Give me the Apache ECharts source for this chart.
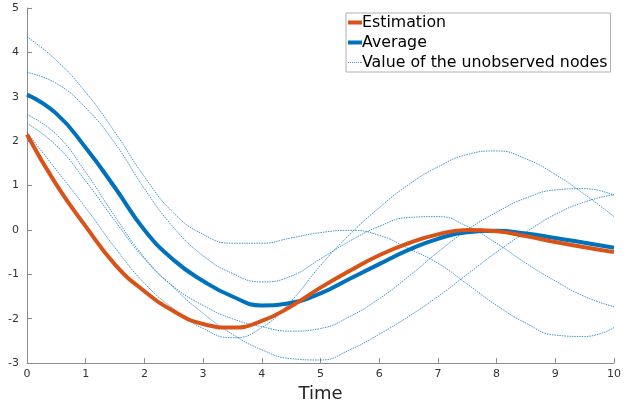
<!DOCTYPE html>
<html>
<head>
<meta charset="utf-8">
<script src="https://cdn.jsdelivr.net/npm/echarts@6/dist/echarts.min.js"></script>
<style>html,body{margin:0;padding:0;background:#fff;}#c{width:642px;height:408px;}</style>
</head>
<body>
<div id="c"></div>
<script>
var xs = [0,0.5,1,1.5,2,2.5,3,3.5,4,4.5,5,5.5,6,6.5,7,7.5,8,8.5,9,9.5,10];
var estimation = [2.15,1.02,0.08,-0.78,-1.38,-1.83,-2.12,-2.2,-2.05,-1.72,-1.3,-0.92,-0.57,-0.3,-0.1,0.0,-0.03,-0.14,-0.27,-0.39,-0.5];
var average = [3.05,2.62,1.85,0.95,0.0,-0.68,-1.15,-1.5,-1.7,-1.64,-1.43,-1.1,-0.77,-0.45,-0.2,-0.05,-0.02,-0.08,-0.18,-0.29,-0.4];
var nodeA = [4.35,3.82,3.1,2.2,1.2,0.38,-0.1,-0.3,-0.3,-0.18,-0.06,-0.01,-0.12,-0.42,-0.75,-1.22,-1.7,-2.1,-2.37,-2.4,-2.2];
var nodeB = [3.55,3.3,2.75,1.95,0.93,0.05,-0.58,-0.98,-1.17,-1.04,-0.65,-0.25,0.08,0.28,0.3,0.08,-0.3,-0.75,-1.15,-1.5,-1.73];
var nodeC = [2.2,1.35,0.5,-0.4,-1.2,-1.78,-2.22,-2.43,-2.2,-1.6,-0.8,-0.1,0.5,1.02,1.42,1.7,1.78,1.6,1.25,0.8,0.3];
var nodeD = [2.4,1.9,1.1,0.2,-0.65,-1.28,-1.7,-2.0,-2.18,-2.28,-2.22,-1.95,-1.55,-1.05,-0.5,0.0,0.4,0.72,0.9,0.93,0.78];
var nodeE = [2.6,2.15,1.3,0.3,-0.62,-1.3,-1.88,-2.35,-2.7,-2.9,-2.93,-2.7,-2.35,-1.95,-1.5,-1.0,-0.5,-0.05,0.35,0.63,0.8];
var xTicks = [0,1,2,3,4,5,6,7,8,9,10];
var yTicks = [-3,-2,-1,0,1,2,3,4,5];
var legendNames = ['Estimation','Average','Value of the unobserved nodes'];

function pairs(ys){ return xs.map(function(x,i){ return [x, ys[i]]; }); }

var thinStyle = {color:'#0072BD', width:1, type:[1.5,1], opacity:0.75};
var nodes = [nodeA,nodeB,nodeC,nodeD,nodeE];
var series = [];
nodes.forEach(function(n){
  series.push({
    name: legendNames[2], type:'line', data: pairs(n), smooth:0.5, symbol:'none',
    lineStyle: thinStyle, itemStyle:{color:'#0072BD'}, z: 1, silent:true
  });
});
series.push({name: legendNames[1], type:'line', data: pairs(average), smooth:0.5, symbol:'none',
  lineStyle:{color:'#0072BD', width:4}, itemStyle:{color:'#0072BD'}, z:3});
series.push({name: legendNames[0], type:'line', data: pairs(estimation), smooth:0.5, symbol:'none',
  lineStyle:{color:'#D95319', width:4}, itemStyle:{color:'#D95319'}, z:4});

var thickIcon = 'path://M0,0H14V4H0Z';
var dotIcon = 'path://M0,0H1V1H0Z M2,0H3V1H2Z M4,0H5V1H4Z M6,0H7V1H6Z M8,0H9V1H8Z M10,0H11V1H10Z M12,0H13V1H12Z M13,0H14V1H13Z';

var axisColor = '#8c8c8c';
var chart = echarts.init(document.getElementById('c'), null, {renderer:'canvas'});
chart.setOption({
  animation:false,
  backgroundColor:'#ffffff',
  textStyle:{fontFamily:'DejaVu Sans'},
  grid:{left:27, right:28, top:8, bottom:41, containLabel:false},
  legend:{
    data:[
      {name:legendNames[0], icon:thickIcon, itemStyle:{color:'#D95319'}},
      {name:legendNames[1], icon:thickIcon, itemStyle:{color:'#0072BD'}},
      {name:legendNames[2], icon:dotIcon, itemStyle:{color:'#4a9ad6'}}
    ],
    orient:'vertical', left:346, top:13, itemWidth:14, itemHeight:14, itemGap:3,
    padding:[1,3,1,2], borderColor:'#b0b0b0', borderWidth:1, backgroundColor:'#fff',
    textStyle:{fontSize:15.8, color:'#000', fontFamily:'DejaVu Sans', lineHeight:17, padding:[0,0,0,-5]},
    selectedMode:false
  },
  xAxis:{
    type:'value', min:0, max:10, interval:1,
    name:'Time', nameLocation:'middle', nameGap:19,
    nameTextStyle:{fontSize:18, color:'#262626', fontFamily:'DejaVu Sans', verticalAlign:'top'},
    axisLine:{onZero:false, lineStyle:{color:axisColor}},
    axisTick:{inside:true, length:5, lineStyle:{color:axisColor}},
    axisLabel:{fontSize:11, color:'#333', margin:6, formatter:function(v){return xTicks.indexOf(v)>=0? String(v):'';}},
    splitLine:{show:false}
  },
  yAxis:{
    type:'value', min:-3, max:5, interval:1,
    axisLine:{show:true, onZero:false, lineStyle:{color:axisColor}},
    axisTick:{show:true, inside:true, length:5, lineStyle:{color:axisColor}},
    axisLabel:{fontSize:11, color:'#333', margin:8, formatter:function(v){return yTicks.indexOf(v)>=0? String(v):'';}},
    splitLine:{show:false}
  },
  series: series
});
</script>
</body>
</html>
